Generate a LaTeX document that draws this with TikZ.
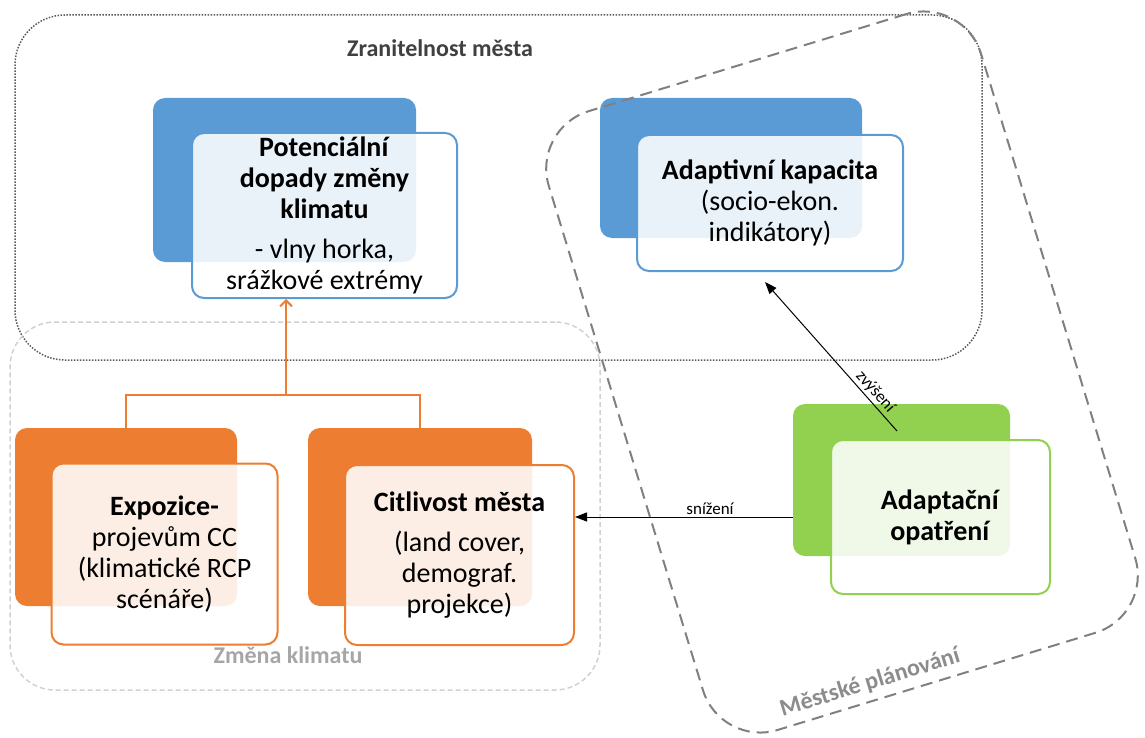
\documentclass[tikz,border=0pt]{standalone}
\usepackage{fontspec}
\setmainfont{Carlito}
\usetikzlibrary{arrows.meta,positioning}
\definecolor{accblue}{HTML}{5B9BD5}
\definecolor{accorange}{HTML}{ED7D31}
\definecolor{accgreen}{HTML}{92D050}
\tikzset{backbox/.style={rounded corners=12pt, inner sep=0pt},
        frontbox/.style={draw, rounded corners=12pt, line width=2pt, fill=white,
                         fill opacity=0.87, text opacity=1, align=center, inner sep=0pt,
                         font=\fontsize{28}{31}\selectfont},
        vulnframe/.style={draw=black!65, line width=1.5pt, dash pattern=on 1.5pt off 1.5pt,
                          rounded corners=50pt},
        climframe/.style={draw=black!18, line width=1.5pt, dash pattern=on 5pt off 3pt,
                          rounded corners=45pt},
        planframe/.style={draw=black!50, line width=2pt, dash pattern=on 12pt off 7pt,
                          rounded corners=60pt},
        grouplabel/.style={font=\fontsize{24}{28}\selectfont\bfseries},
        treeline/.style={draw=accorange, line width=2pt},
        link/.style={draw=black, line width=1pt, -{Triangle[length=12pt,width=9pt]}},
        linklabel/.style={font=\fontsize{17}{20}\selectfont, inner sep=2pt},
        }

\begin{document}
\begin{tikzpicture}[x=1pt,y=-1pt]
    \useasboundingbox (0,0) rectangle (1145,738);

    % groups
    \node[vulnframe, minimum width=967, minimum height=345] (vuln) at (498.5,187.5) {};
    \node[grouplabel, text=black!75] (vulnlabel) at (440,48) {Zranitelnost města};
    \node[climframe, minimum width=590, minimum height=368] (clim) at (305,506) {};
    \node[grouplabel, text=black!35] (climlabel) at (288,655) {Změna klimatu};

    % Potencialni dopady
    \node[backbox, fill=accblue, minimum width=263, minimum height=164] (potback) at (284.5,180) {};
    \node[frontbox, draw=accblue, minimum width=265, minimum height=165] (potfront) at (324.5,215.5)
        {\textbf{Potenciální}\\\textbf{dopady změny}\\\textbf{klimatu}\\[9pt]- vlny horka,\\srážkové extrémy};

    % Adaptivni kapacita
    \node[backbox, fill=accblue, minimum width=262, minimum height=140] (capback) at (731,168) {};
    \node[frontbox, draw=accblue, minimum width=266, minimum height=136] (capfront) at (770,203)
        {\textbf{Adaptivní kapacita}\\(socio-ekon.\\indikátory)};

    % Expozice
    \node[backbox, fill=accorange, minimum width=222, minimum height=178] (expback) at (126,517) {};
    \node[frontbox, draw=accorange, minimum width=226, minimum height=181] (expfront) at (164.5,554)
        {\textbf{Expozice-}\\projevům CC\\(klimatické RCP\\scénáře)};

    % Citlivost mesta
    \node[backbox, fill=accorange, minimum width=224, minimum height=178] (citback) at (420,517) {};
    \node[frontbox, draw=accorange, minimum width=229, minimum height=180] (citfront) at (459.5,555)
        {\textbf{Citlivost města}\\[9pt](land cover,\\demograf.\\projekce)};

    % Adaptacni opatreni
    \node[backbox, fill=accgreen, minimum width=217, minimum height=152] (adaback) at (901.5,480) {};
    \node[frontbox, draw=accgreen, minimum width=219, minimum height=154] (adafront) at (940.5,517)
        {\textbf{Adaptační}\\\textbf{opatření}};

    % orange tree
    \coordinate (join) at (286,395);
    \draw[treeline] (expback.north) |- (join) -| (citback.north);
    \draw[treeline, -{Straight Barb[length=6pt,width=12pt]}] (join) -- (join |- potfront.south);

    % links
    \coordinate (upstart) at (897,431);
    \coordinate (uptip) at (765,282);
    \draw[link] (upstart) -- (uptip)
        node[linklabel, pos=0.22, sloped, above] {zvýšení};
    \draw[link] (adaback.west |- adafront.center) -- (citfront.east |- adafront.center)
        node[linklabel, pos=0.38, above] {snížení};

    % planning frame
    \node[planframe, rotate=17, minimum width=452, minimum height=647] (plan) at (842,372) {};
    \node[grouplabel, text=black!45, rotate=17] (planlabel) at (870,683) {Městské plánování};
\end{tikzpicture}
\end{document}
